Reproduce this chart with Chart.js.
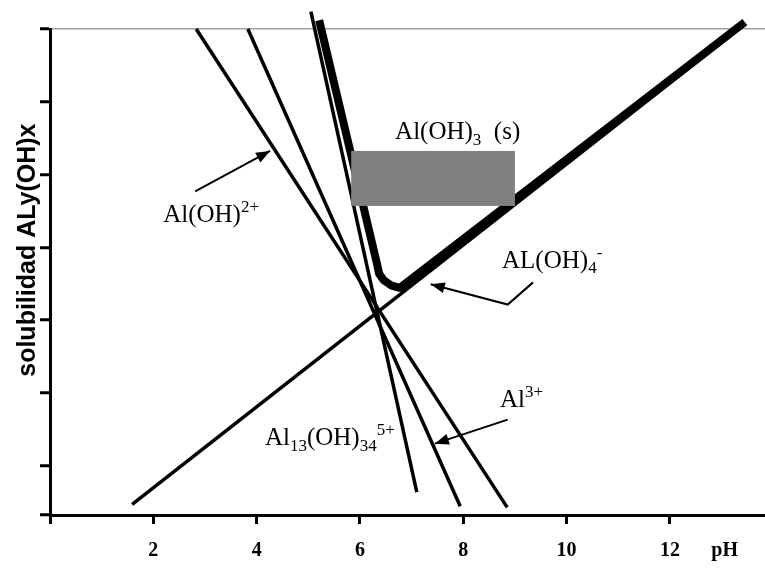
<!DOCTYPE html>
<html>
<head>
<meta charset="utf-8">
<script src="https://cdn.jsdelivr.net/npm/chart.js@4.4.1/dist/chart.umd.min.js"></script>
<style>
    html, body { margin: 0; padding: 0; background: #fff; }
</style>
</head>
<body>
<canvas id="chart" width="765" height="578"></canvas>
<script>
// eje x (pH) y eje y (log C)
const xTickValues = [0, 2, 4, 6, 8, 10, 12, 13.06];
const xTickLabels = ['', '2', '4', '6', '8', '10', '12', 'pH'];
const yTickValues = [-13.35, -12, -10, -8, -6, -4, -2, 0];
const yTitle = 'solubilidad ALy(OH)x';

// rectas de cada especie: pH y log C en los extremos
const al13PH = [5.05, 7.10];
const al13Log = [0.48, -12.72];
const al3PH = [3.83, 7.94];
const al3Log = [0.0, -13.11];
const alOH2PH = [2.83, 8.85];
const alOH2Log = [0.0, -13.14];
const alOH4PH = [1.59, 13.45];
const alOH4Log = [-13.06, 0.13];

// solubilidad total (curva gruesa)
const totalPH = [5.21, 6.33, 6.37, 6.46, 6.60, 6.77, 13.45];
const totalLog = [0.24, -6.45, -6.72, -6.90, -7.04, -7.11, 0.19];

// zona de Al(OH)3 (s)
const solidPH = [5.83, 9.0];
const solidLog = [-3.35, -4.86];

function toPoints(xs, ys) {
    return xs.map((v, i) => ({ x: v, y: ys[i] }));
}

function lineSet(label, xs, ys, width) {
    return {
        label: label,
        data: toPoints(xs, ys),
        borderColor: '#000',
        borderWidth: width,
        pointRadius: 0,
        fill: false,
        clip: false,
        borderJoinStyle: 'round'
    };
}

// textos con subindices / superindices
const notes = [
    { parts: [{ t: 'Al(OH)' }, { t: '3', sub: true }, { t: '  (s)' }], at: [6.68, -3.03] },
    { parts: [{ t: 'Al(OH)' }, { t: '2+', sup: true }], at: [2.19, -5.31] },
    { parts: [{ t: 'AL(OH)' }, { t: '4', sub: true }, { t: '-', sup: true }], at: [8.75, -6.56] },
    { parts: [{ t: 'Al' }, { t: '3+', sup: true }], at: [8.71, -10.38] },
    { parts: [{ t: 'Al' }, { t: '13', sub: true }, { t: '(OH)' }, { t: '34', sub: true }, { t: '5+', sup: true }], at: [4.16, -11.44] }
];

const arrows = [
    [[2.81, -4.46], [4.26, -3.35]],
    [[9.35, -6.96], [8.86, -7.57], [7.37, -7.01]],
    [[8.86, -10.73], [7.45, -11.39]]
];

function drawRich(ctx, parts, px, py, size) {
    let cx = px;
    parts.forEach(p => {
        const small = p.sub || p.sup;
        const s = small ? size * 0.68 : size;
        ctx.font = s + 'px "Liberation Serif", "Times New Roman", serif';
        const dy = p.sub ? size * 0.22 : (p.sup ? -size * 0.4 : 0);
        ctx.fillText(p.t, cx, py + dy);
        cx += ctx.measureText(p.t).width;
    });
}

function drawArrow(ctx, pts) {
    ctx.beginPath();
    ctx.moveTo(pts[0][0], pts[0][1]);
    for (let i = 1; i < pts.length; i++) ctx.lineTo(pts[i][0], pts[i][1]);
    ctx.stroke();
    const [x1, y1] = pts[pts.length - 2];
    const [x2, y2] = pts[pts.length - 1];
    const a = Math.atan2(y2 - y1, x2 - x1);
    const len = 14, half = 5.5;
    ctx.beginPath();
    ctx.moveTo(x2, y2);
    ctx.lineTo(x2 - len * Math.cos(a) + half * Math.sin(a), y2 - len * Math.sin(a) - half * Math.cos(a));
    ctx.lineTo(x2 - len * Math.cos(a) - half * Math.sin(a), y2 - len * Math.sin(a) + half * Math.cos(a));
    ctx.closePath();
    ctx.fill();
}

const annotations = {
    id: 'annotations',
    afterDatasetsDraw(chart) {
        const { ctx, chartArea, scales: { x, y } } = chart;
        ctx.save();
        // rectangulo gris
        const rx = x.getPixelForValue(solidPH[0]);
        const ry = y.getPixelForValue(solidLog[0]);
        ctx.fillStyle = '#808080';
        ctx.fillRect(rx, ry, x.getPixelForValue(solidPH[1]) - rx, y.getPixelForValue(solidLog[1]) - ry);

        ctx.fillStyle = '#000';
        ctx.strokeStyle = '#000';
        ctx.lineWidth = 2;
        ctx.textBaseline = 'alphabetic';
        ctx.textAlign = 'left';
        notes.forEach(n => {
            drawRich(ctx, n.parts, x.getPixelForValue(n.at[0]), y.getPixelForValue(n.at[1]), 25);
        });
        arrows.forEach(a => {
            drawArrow(ctx, a.map(p => [x.getPixelForValue(p[0]), y.getPixelForValue(p[1])]));
        });

        // titulo del eje y (algo por encima del centro, como en el original)
        ctx.translate(chartArea.left - 15, chartArea.top + 0.455 * (chartArea.bottom - chartArea.top));
        ctx.rotate(-Math.PI / 2);
        ctx.textAlign = 'center';
        ctx.font = 'bold 25px "Liberation Sans", Arial, sans-serif';
        ctx.fillText(yTitle, 0, 0);
        ctx.restore();
    }
};

new Chart(document.getElementById('chart').getContext('2d'), {
    type: 'line',
    data: {
        datasets: [
            lineSet('Al13(OH)34 5+', al13PH, al13Log, 3.5),
            lineSet('Al3+', al3PH, al3Log, 3.5),
            lineSet('Al(OH)2+', alOH2PH, alOH2Log, 3.5),
            lineSet('Al(OH)4-', alOH4PH, alOH4Log, 3.5),
            lineSet('total', totalPH, totalLog, 8)
        ]
    },
    options: {
        responsive: false,
        animation: false,
        layout: { padding: { top: 29, left: 40, right: 0, bottom: 0 } },
        plugins: { legend: { display: false }, tooltip: { enabled: false } },
        scales: {
            x: {
                type: 'linear',
                min: 0,
                max: 13.84,
                afterBuildTicks: axis => { axis.ticks = xTickValues.map(v => ({ value: v })); },
                ticks: {
                    autoSkip: false,
                    maxRotation: 0,
                    padding: 17,
                    color: '#000',
                    font: { family: '"Liberation Serif", "Times New Roman", serif', size: 20, weight: 'bold', lineHeight: 1 },
                    callback: (v, i) => xTickLabels[i]
                },
                grid: {
                    drawOnChartArea: false,
                    tickLength: 9,
                    tickWidth: 3,
                    tickColor: c => (c.tick && c.tick.value > 12.5) ? 'rgba(0,0,0,0)' : '#000'
                },
                border: { color: '#000', width: 3 }
            },
            y: {
                type: 'linear',
                min: -13.35,
                max: 0,
                afterBuildTicks: axis => { axis.ticks = yTickValues.map(v => ({ value: v })); },
                ticks: { display: false },
                grid: {
                    color: c => (c.tick && c.tick.value === 0) ? '#a0a0a0' : 'rgba(0,0,0,0)',
                    lineWidth: 1.5,
                    tickLength: 10,
                    tickWidth: 3,
                    tickColor: '#000'
                },
                border: { color: '#000', width: 3 }
            }
        }
    },
    plugins: [annotations]
});
</script>
</body>
</html>
